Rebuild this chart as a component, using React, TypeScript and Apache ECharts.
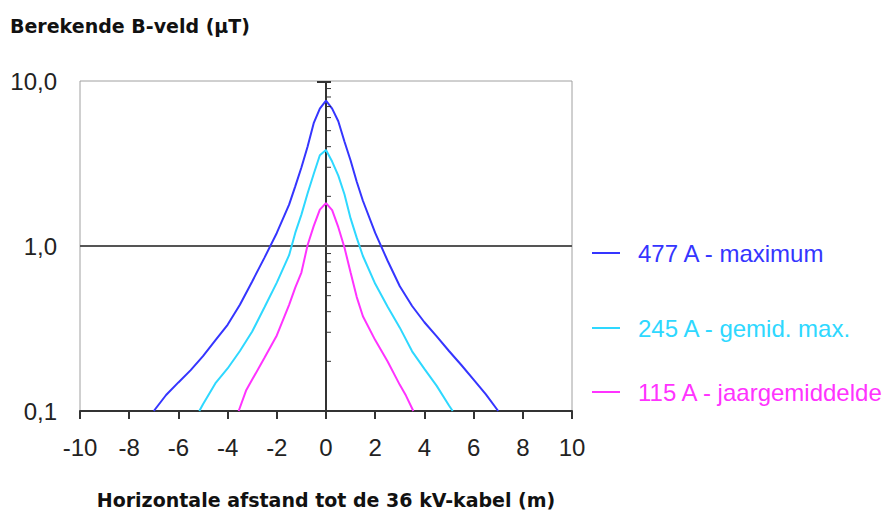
import React, { useEffect, useRef } from "react";
import * as echarts from "echarts";

// ---- data ----
const SERIES_NAMES = ["477 A - maximum", "245 A - gemid. max.", "115 A - jaargemiddelde"];

const BLUE_X = [-7, -6.5, -6, -5.5, -5, -4.5, -4, -3.5, -3, -2.5, -2, -1.5, -1.25, -1, -0.75, -0.5, -0.25, 0, 0.25, 0.5, 0.75, 1, 1.25, 1.5, 2, 2.5, 3, 3.5, 4, 4.5, 5, 5.5, 6, 6.5, 7];
const BLUE_Y = [0.1, 0.125, 0.149, 0.177, 0.215, 0.268, 0.333, 0.44, 0.61, 0.85, 1.2, 1.78, 2.3, 2.99, 4.0, 5.55, 6.8, 7.6, 6.8, 5.7, 4.3, 3.3, 2.45, 1.88, 1.2, 0.817, 0.57, 0.433, 0.345, 0.283, 0.231, 0.19, 0.155, 0.126, 0.1];

const CYAN_X = [-5.15, -5, -4.5, -4, -3.5, -3, -2.5, -2, -1.5, -1.25, -1, -0.75, -0.5, -0.25, 0, 0.25, 0.5, 0.75, 1, 1.25, 1.5, 2, 2.5, 3, 3.5, 4, 4.5, 5, 5.15];
const CYAN_Y = [0.1, 0.11, 0.147, 0.181, 0.231, 0.303, 0.425, 0.6, 0.88, 1.2, 1.55, 2.08, 2.73, 3.55, 3.82, 3.25, 2.67, 2.06, 1.47, 1.12, 0.87, 0.59, 0.43, 0.32, 0.23, 0.18, 0.142, 0.108, 0.1];

const MAG_X = [-3.55, -3.25, -3, -2.5, -2, -1.5, -1.25, -1, -0.75, -0.5, -0.25, 0, 0.25, 0.5, 0.75, 1, 1.25, 1.5, 2, 2.5, 3, 3.25, 3.55];
const MAG_Y = [0.1, 0.133, 0.155, 0.21, 0.287, 0.44, 0.56, 0.69, 1.01, 1.32, 1.66, 1.82, 1.65, 1.3, 0.98, 0.69, 0.49, 0.375, 0.269, 0.2, 0.144, 0.124, 0.1];

const X_MIN = -10;
const X_MAX = 10;
const X_STEP = 2;
const Y_TICK_VALUES = [0.1, 1, 10];
const Y_TICK_LABELS = ["0,1", "1,0", "10,0"];
const MINOR_TICKS = [0.2, 0.3, 0.4, 0.5, 0.6, 0.7, 0.8, 0.9, 2, 3, 4, 5, 6, 7, 8, 9];
const MAJOR_TICKS = [10];

const TITLE = "Berekende B-veld (µT)";
const X_NAME = "Horizontale afstand tot de 36 kV-kabel (m)";

const COLORS = ["#3535ff", "#2ed8ff", "#ff33ff"];
const FONT = "'Liberation Sans', Arial, sans-serif";
const BOLD_FONT = "'DejaVu Sans', Verdana, sans-serif";

const zip = (xs: number[], ys: number[]) => xs.map((x, i) => [x, ys[i]]);

export default function App() {
  const ref = useRef<HTMLDivElement>(null);

  useEffect(() => {
    if (!ref.current) return;
    const chart = echarts.init(ref.current, undefined, { renderer: "svg" });

    const seriesData = [zip(BLUE_X, BLUE_Y), zip(CYAN_X, CYAN_Y), zip(MAG_X, MAG_Y)];
    const legendTops = [241, 316, 380];

    const option: any = {
      animation: false,
      backgroundColor: "#ffffff",
      title: {
        text: TITLE,
        left: 10,
        top: 16,
        padding: 0,
        textStyle: { fontFamily: BOLD_FONT, fontWeight: "bold", fontSize: 19, color: "#111" },
      },
      legend: SERIES_NAMES.map((name, i) => ({
        data: [name],
        left: 592,
        top: legendTops[i],
        padding: 0,
        orient: "vertical",
        selectedMode: false,
        icon: "rect",
        itemWidth: 28,
        itemHeight: 2,
        textStyle: { fontFamily: FONT, fontSize: 24, color: COLORS[i], padding: [0, 0, 0, 13] },
      })),
      grid: {
        left: 80,
        right: 323,
        top: 81,
        bottom: 99,
        show: true,
        borderColor: "#a0a0a0",
        borderWidth: 1,
        backgroundColor: "transparent",
        containLabel: false,
        outerBoundsMode: "none",
      },
      xAxis: {
        type: "value",
        min: X_MIN,
        max: X_MAX,
        interval: X_STEP,
        name: X_NAME,
        nameLocation: "middle",
        nameGap: 79,
        nameTextStyle: { fontFamily: BOLD_FONT, fontWeight: "bold", fontSize: 19, color: "#111" },
        axisLine: { onZero: false, lineStyle: { color: "#333", width: 2 } },
        axisTick: { show: true, length: 8, lineStyle: { color: "#333", width: 2 } },
        axisLabel: { fontFamily: FONT, fontSize: 24, color: "#222", margin: 24, showMinLabel: true, showMaxLabel: true },
        splitLine: { show: false },
      },
      yAxis: {
        type: "log",
        logBase: 10,
        min: 0.1,
        max: 10,
        axisLine: { show: false, onZero: false },
        axisTick: { show: false },
        splitLine: { show: false },
        axisLabel: {
          fontFamily: FONT,
          fontSize: 24,
          color: "#222",
          margin: 23,
          formatter: (v: number) => {
            const idx = Y_TICK_VALUES.findIndex((t) => Math.abs(Math.log10(t) - Math.log10(v)) < 1e-6);
            return idx >= 0 ? Y_TICK_LABELS[idx] : "";
          },
        },
      },
      series: [
        ...SERIES_NAMES.map((name, i) => ({
          name,
          type: "line",
          data: seriesData[i],
          showSymbol: false,
          symbol: "none",
          smooth: false,
          color: COLORS[i],
          lineStyle: { color: COLORS[i], width: 2 },
          z: 3,
          ...(i === 0
            ? {
                markLine: {
                  silent: true,
                  symbol: "none",
                  label: { show: false },
                  z: 2,
                  data: [
                    { xAxis: 0, lineStyle: { color: "#333", width: 2, type: "solid" } },
                    { yAxis: 1, lineStyle: { color: "#555", width: 2, type: "solid" } },
                  ],
                },
              }
            : {}),
        })),
        {
          type: "custom",
          silent: true,
          z: 4,
          encode: { x: 0, y: 1 },
          data: [...MINOR_TICKS.map((v) => [0, v, 0]), ...MAJOR_TICKS.map((v) => [0, v, 1])],
          renderItem: (params: any, api: any) => {
            const p = api.coord([api.value(0), api.value(1)]);
            const major = api.value(2) === 1;
            return {
              type: "line",
              shape: { x1: p[0] + (major ? -9 : 0), y1: p[1] + (major ? 1 : 0), x2: p[0] + 5, y2: p[1] + (major ? 1 : 0) },
              style: { stroke: "#333", lineWidth: major ? 2 : 1 },
            };
          },
        },
      ],
    };

    chart.setOption(option);
    return () => chart.dispose();
  }, []);

  return (
    <div
      ref={ref}
      style={{ position: "fixed", left: 0, top: 0, width: 895, height: 510, background: "#fff" }}
    />
  );
}
